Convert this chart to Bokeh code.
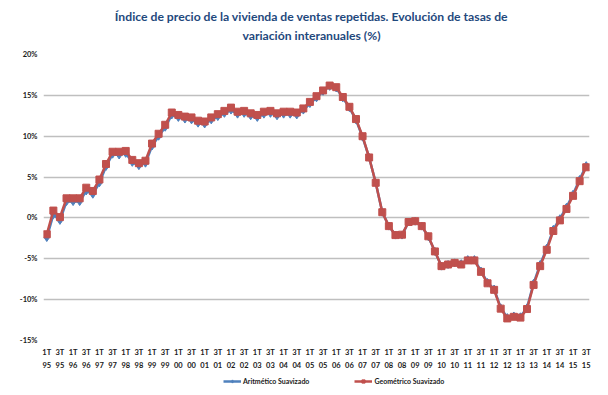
from bokeh.plotting import figure
from bokeh.models import FixedTicker, Range1d, Legend, LegendItem, Label, LinearAxis
from bokeh.layouts import column
from bokeh.embed import file_html
from bokeh.resources import INLINE

years = ["95", "96", "97", "98", "99", "00", "01", "02", "03", "04", "05",
         "06", "07", "08", "09", "10", "11", "12", "13", "14", "15"]
quarters = [f"{q}T {y}" for y in years for q in ("1", "2", "3", "4")][:83]

geometrico = [-2.0, 0.9, 0.1, 2.4, 2.4, 2.4, 3.7, 3.3, 4.7, 6.6,
              8.1, 8.1, 8.2, 7.1, 6.7, 7.0, 9.1, 10.3, 11.4, 12.9,
              12.6, 12.4, 12.3, 11.9, 11.8, 12.3, 12.7, 13.1, 13.5, 13.0,
              13.1, 12.8, 12.6, 13.0, 13.1, 12.8, 13.0, 13.0, 12.9, 13.4,
              14.2, 14.9, 15.6, 16.2, 16.0, 14.8, 13.6, 12.1, 10.0, 7.4,
              4.3, 0.7, -1.0, -2.1, -2.05, -0.5, -0.4, -1.0, -2.25, -4.1,
              -5.9, -5.7, -5.5, -5.7, -5.2, -5.2, -6.6, -8.0, -8.8, -11.1,
              -12.3, -12.1, -12.2, -11.15, -8.2, -5.9, -3.9, -1.6, -0.3, 1.1,
              2.7, 4.5, 6.2]

aritmetico = [-2.4, 0.4, -0.3, 2.0, 2.0, 2.0, 3.3, 2.9, 4.3, 6.3,
              7.8, 7.7, 7.9, 6.8, 6.4, 6.7, 8.8, 10.0, 11.1, 12.6,
              12.3, 12.1, 12.0, 11.6, 11.5, 12.0, 12.4, 12.8, 13.2, 12.7,
              12.8, 12.5, 12.3, 12.7, 12.8, 12.5, 12.7, 12.7, 12.6, 13.2,
              14.0, 14.7, 15.5, 16.1, 15.9, 14.7, 13.5, 12.0, 9.9, 7.4,
              4.3, 0.7, -1.0, -2.1, -2.1, -0.5, -0.4, -1.0, -2.3, -4.1,
              -5.9, -5.7, -5.5, -5.6, -5.1, -5.1, -6.5, -7.9, -8.7, -11.0,
              -12.2, -12.0, -12.1, -11.0, -8.0, -5.7, -3.7, -1.4, -0.1, 1.3,
              2.9, 4.7, 6.4]

y_ticks = [-15, -10, -5, 0, 5, 10, 15, 20]
y_tick_labels = ["-15%", "-10%", "-5%", "0%", "5%", "10%", "15%", "20%"]

title_line1 = "Índice de precio de la vivienda de ventas repetidas. Evolución de tasas de"
title_line2 = "variación interanuales (%)"
series_names = ["Aritmético Suavizado", "Geométrico Suavizado"]

x = list(range(len(quarters)))
x_ticks = x[::2]
quarter_labels = {i: quarters[i].split(" ")[0] for i in x_ticks}
year_labels = {i: quarters[i].split(" ")[1] for i in x_ticks}

BLUE = "#4F81BD"
RED = "#C0504D"
FONT = "Lato"
LABEL_COLOR = "#1a1a1a"
TITLE_COLOR = "#1F497D"


def strip(height):
    f = figure(width=592, height=height, output_backend="svg", toolbar_location=None,
               x_axis_type=None, y_axis_type=None, min_border=0,
               x_range=Range1d(0, 1), y_range=Range1d(0, 1))
    f.outline_line_color = None
    f.xgrid.visible = False
    f.ygrid.visible = False
    f.title = None
    return f


# ---- title strip ----
tt = strip(46)
for txt, yy in ((title_line1, 30), (title_line2, 11)):
    tt.add_layout(Label(x=268, y=yy, x_units="screen", y_units="screen", text=txt,
                        text_align="center", text_baseline="middle",
                        text_font=FONT, text_font_style="bold",
                        text_font_size="12.2px", text_color=TITLE_COLOR))

# ---- main chart ----
p = figure(width=592, height=328, output_backend="svg", toolbar_location=None,
           x_range=Range1d(-0.5, 82.5), y_range=Range1d(-15, 20),
           min_border_left=43, min_border_right=3, min_border_top=8,
           min_border_bottom=34)
p.title = None
p.outline_line_color = None
p.background_fill_color = "white"
p.border_fill_color = "white"


def style_axis(ax, standoff):
    ax.axis_line_color = None
    ax.major_tick_line_color = None
    ax.minor_tick_line_color = None
    ax.major_tick_out = 0
    ax.major_tick_in = 0
    ax.minor_tick_out = 0
    ax.minor_tick_in = 0
    ax.major_label_text_font = FONT
    ax.major_label_text_font_style = "bold"
    ax.major_label_text_font_size = "7.5px"
    ax.major_label_text_color = LABEL_COLOR
    ax.major_label_standoff = standoff


xa = p.xaxis[0]
xa.ticker = FixedTicker(ticks=x_ticks)
xa.major_label_overrides = quarter_labels
style_axis(xa, 7)

xa2 = LinearAxis(ticker=FixedTicker(ticks=x_ticks), major_label_overrides=year_labels)
style_axis(xa2, 2)
p.add_layout(xa2, "below")

ya = p.yaxis[0]
ya.ticker = FixedTicker(ticks=y_ticks)
ya.major_label_overrides = dict(zip(y_ticks, y_tick_labels))
style_axis(ya, 6)

p.xgrid.grid_line_color = None
p.ygrid.ticker = FixedTicker(ticks=y_ticks)
p.ygrid.grid_line_color = "#BFBFBF"
p.ygrid.grid_line_width = 1.5

p.line(x, aritmetico, line_color=BLUE, line_width=2.5)
p.scatter(x, aritmetico, marker="diamond", size=8, fill_color=BLUE, line_color=BLUE)
p.line(x, geometrico, line_color=RED, line_width=2.5)
p.scatter(x, geometrico, marker="square", size=7, fill_color=RED, line_color=RED)

# ---- legend strip (helper renderers sit outside the strip's visible range) ----
lg = strip(13)
r1 = [lg.line([-5, -4], [-5, -4], line_color=BLUE, line_width=2.5),
      lg.scatter([-5], [-5], marker="diamond", size=7, fill_color=BLUE, line_color=BLUE)]
r2 = [lg.line([-5, -4], [-5, -4], line_color=RED, line_width=2.5),
      lg.scatter([-5], [-5], marker="square", size=6, fill_color=RED, line_color=RED)]
legend = Legend(items=[LegendItem(label=series_names[0], renderers=r1),
                       LegendItem(label=series_names[1], renderers=r2)],
                location=(180, 2), orientation="horizontal",
                label_text_font=FONT, label_text_font_style="bold",
                label_text_font_size="7px", label_text_color=LABEL_COLOR,
                glyph_width=18, glyph_height=8, label_height=8, label_standoff=2,
                spacing=45, padding=0, margin=0,
                background_fill_alpha=0, border_line_alpha=0)
lg.add_layout(legend, "center")

layout = column(tt, p, lg, spacing=0)
open("out.html", "w").write(file_html(layout, INLINE))
